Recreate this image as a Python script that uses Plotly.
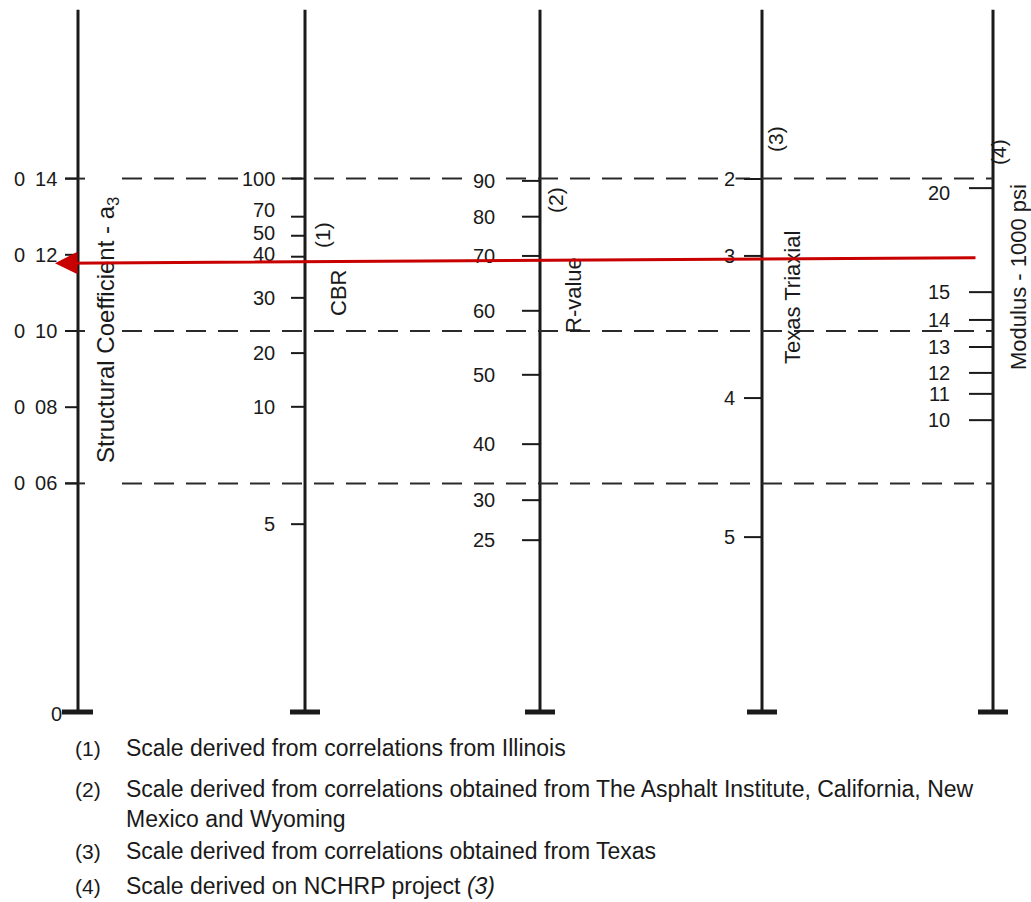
import plotly.graph_objects as go

# ---------------- data (value -> equivalent structural coefficient a3) ----------------
A3_TICKS = [0.14, 0.12, 0.10, 0.08, 0.06]
A3_LABELS = ["0&#8194;14", "0&#8194;12", "0&#8194;10", "0&#8194;08", "0&#8194;06"]

CBR_VALUES = [100, 70, 50, 40, 30, 20, 10, 5]
CBR_A3 = [0.1400, 0.1300, 0.1250, 0.1195, 0.1087, 0.0942, 0.0801, 0.0493]

R_VALUES = [90, 80, 70, 60, 50, 40, 30, 25]
R_A3 = [0.1394, 0.1300, 0.1197, 0.1053, 0.0885, 0.0703, 0.0556, 0.0451]

TEXAS_VALUES = [2, 3, 4, 5]
TEXAS_A3 = [0.1399, 0.1197, 0.0824, 0.0459]

MODULUS_VALUES = [20, 15, 14, 13, 12, 11, 10]
MODULUS_A3 = [0.1375, 0.1102, 0.1029, 0.0958, 0.0890, 0.0835, 0.0766]

GUIDE_A3 = [0.14, 0.10, 0.06]
AXIS_TOP_A3 = 0.1843
EXAMPLE_START_A3 = 0.1192   # on modulus scale
EXAMPLE_END_A3 = 0.1178     # read on a3 scale

FOOTNOTES = [
    ("(1)", "Scale derived from correlations from Illinois"),
    ("(2)", "Scale derived from correlations obtained from The Asphalt Institute, California, New<br>Mexico and Wyoming"),
    ("(3)", "Scale derived from correlations obtained from Texas"),
    ("(4)", "Scale derived on NCHRP project <i>(3)</i>"),
]

# ---------------- layout constants ----------------
W, H = 1031, 902
ZERO_PX = 712.0
PX_PER_UNIT = 3810.0
AX_X = [78, 305, 540, 762, 993]
FONT = "Liberation Sans, Arial, sans-serif"
INK = "#1a1a1a"
LABEL_YSHIFT = {"70_1": 7, "50_1": 3, "40_1": 3, "20_4": -5}


def py(px):
    """convert a pixel row to a3 units (for placing text only)"""
    return (ZERO_PX - px) / PX_PER_UNIT


fig = go.Figure()

# main scale lines
xs, ys = [], []
for ax in AX_X:
    xs += [ax, ax, None]
    ys += [0, AXIS_TOP_A3, None]
fig.add_trace(go.Scatter(x=xs, y=ys, mode="lines", line=dict(color=INK, width=3),
                         hoverinfo="skip", showlegend=False))

# base bars
xs, ys = [], []
for i, ax in enumerate(AX_X):
    left = 16 if i == 0 else 15
    xs += [ax - left, ax + 15, None]
    ys += [0, 0, None]
fig.add_trace(go.Scatter(x=xs, y=ys, mode="lines", line=dict(color=INK, width=5),
                         hoverinfo="skip", showlegend=False))

# dashed guide lines
xs, ys = [], []
for g in GUIDE_A3:
    xs += [65, 92, None, 122, AX_X[-1], None]
    ys += [g, g, None, g, g, None]
fig.add_trace(go.Scatter(x=xs, y=ys, mode="lines",
                         line=dict(color="#2a2a2a", width=2, dash="20px,12px"),
                         hoverinfo="skip", showlegend=False))

# scales: (axis index, values, a3, tick length, label gap)
scales = [
    (0, A3_LABELS, A3_TICKS, 13, 20),
    (1, [str(v) for v in CBR_VALUES], CBR_A3, 14, 29),
    (2, [str(v) for v in R_VALUES], R_A3, 18, 44),
    (3, [str(v) for v in TEXAS_VALUES], TEXAS_A3, 18, 26),
    (4, [str(v) for v in MODULUS_VALUES], MODULUS_A3, 24, 42),
]
annotations = []
for idx, labels, a3s, tlen, gap in scales:
    ax = AX_X[idx]
    xs, ys = [], []
    for lab, a in zip(labels, a3s):
        xs += [ax - tlen, ax, None]
        ys += [a, a, None]
        on_guide = idx > 0 and any(abs(a - g) < 0.001 for g in GUIDE_A3)
        annotations.append(dict(x=ax - gap, y=a, xref="x", yref="y", text=lab,
                                showarrow=False, xanchor="right", yanchor="middle",
                                yshift=LABEL_YSHIFT.get(f"{lab}_{idx}", 0),
                                bgcolor="white" if on_guide else None, borderpad=0,
                                font=dict(family=FONT, size=20, color=INK)))
    fig.add_trace(go.Scatter(x=xs, y=ys, mode="lines", line=dict(color=INK, width=2),
                             hoverinfo="skip", showlegend=False))

# zero of a3 scale
annotations.append(dict(x=AX_X[0] - 14, y=py(714), xref="x", yref="y", text="0",
                        showarrow=False, xanchor="right", yanchor="middle",
                        font=dict(family=FONT, size=20, color=INK)))

# rotated scale titles
rot = [
    ("Structural Coefficient - a<sub>3</sub>", 107, 330, 24),
    ("(1)", 322, 235, 21), ("CBR", 338, 293, 22),
    ("(2)", 555, 200, 21), ("R-value", 573, 295, 22),
    ("(3)", 775, 139, 21), ("Texas Triaxial", 792, 298, 22),
    ("(4)", 998, 152, 21), ("Modulus - 1000 psi", 1018, 277, 22),
]
for txt, x, y, s in rot:
    annotations.append(dict(x=x, y=py(y), xref="x", yref="y", text=txt, textangle=-90,
                            showarrow=False, xanchor="center", yanchor="middle",
                            font=dict(family=FONT, size=s, color=INK)))

# example arrow (modulus -> a3)
annotations.append(dict(x=55, y=EXAMPLE_END_A3, ax=977, ay=EXAMPLE_START_A3,
                        xref="x", yref="y", axref="x", ayref="y", text="",
                        showarrow=True, arrowhead=2, arrowsize=1.5, arrowwidth=3,
                        arrowcolor="#c80000"))

# footnotes
rows = [748, 789, 851, 886]
for (num, txt), r in zip(FOOTNOTES, rows):
    annotations.append(dict(x=73, y=py(r), xref="x", yref="y", text=num,
                            showarrow=False, xanchor="left", yanchor="middle",
                            font=dict(family=FONT, size=21, color=INK)))
    two = "<br>" in txt
    annotations.append(dict(x=124, y=py(r), xref="x", yref="y", text=txt,
                            showarrow=False, xanchor="left",
                            yanchor="top" if two else "middle",
                            yshift=15 if two else 0, align="left",
                            font=dict(family=FONT, size=23, color=INK)))

fig.update_layout(
    width=W, height=H, margin=dict(l=0, r=0, t=0, b=0),
    paper_bgcolor="white", plot_bgcolor="white",
    xaxis=dict(range=[0, W], visible=False, fixedrange=True),
    yaxis=dict(range=[py(H), py(0)], visible=False, fixedrange=True),
    annotations=annotations, showlegend=False,
)

fig.write_html("out.html", config={"displayModeBar": False},
               post_script="document.body.style.margin='0';document.body.style.overflow='hidden';")
